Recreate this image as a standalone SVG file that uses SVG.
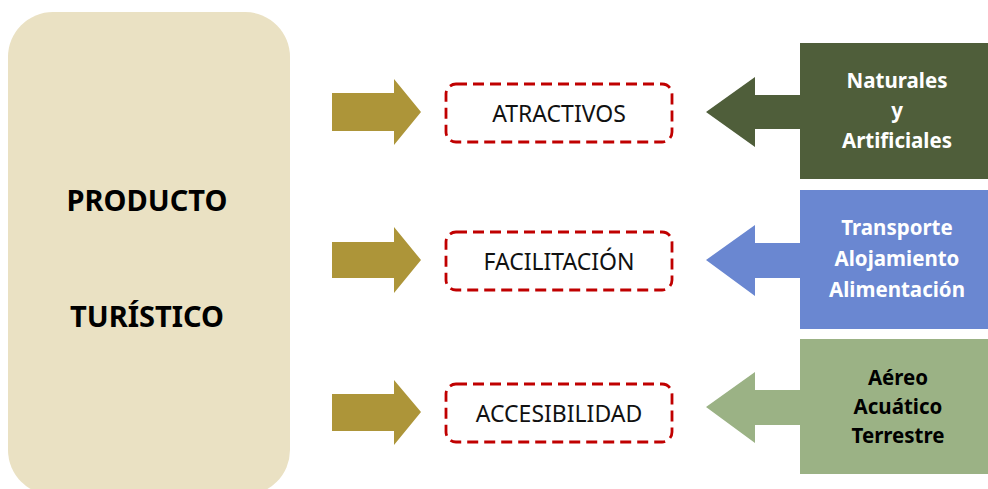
<svg xmlns="http://www.w3.org/2000/svg" width="988" height="489" viewBox="0 0 988 489">
<style>
.gold{fill:#AD9539}
.dash{fill:none;stroke:#C00000;stroke-width:2.8;stroke-dasharray:11 6}
.lbl{font-family:"Noto Sans","Open Sans",sans-serif;font-size:23px;fill:#111;text-anchor:middle}
.big{font-family:"Noto Sans","Open Sans",sans-serif;font-size:29px;font-weight:bold;fill:#000;text-anchor:middle}
.side{font-family:"Noto Sans","Open Sans",sans-serif;font-size:20.5px;font-weight:bold;text-anchor:middle}
</style>
<rect width="988" height="489" fill="#fff"/>
<g id="producto">
<rect x="8" y="12" width="282" height="483" rx="45" ry="45" fill="#EAE1C3"/>
<text class="big" x="147" y="211">PRODUCTO</text>
<text class="big" x="147" y="327">TURÍSTICO</text>
</g>
<g id="connectors">
<polygon class="gold" points="332,93 394,93 394,79 421,112 394,145 394,131 332,131"/>
<polygon class="gold" points="332,242 394,242 394,227 421,260 394,293 394,278 332,278"/>
<polygon class="gold" points="332,394 394,394 394,380 421,412 394,445 394,431 332,431"/>
<polygon fill="#4F5E3A" points="800,95 755,95 755,77 706,112 755,147 755,129 800,129"/>
<polygon fill="#6A87D1" points="800,243 755,243 755,225 706,260 755,296 755,278 800,278"/>
<polygon fill="#9BB285" points="800,390 755,390 755,372 706,407 755,443 755,425 800,425"/>
</g>
<g id="atractivos">
<rect class="dash" x="446" y="84" width="226" height="58" rx="10"/>
<text class="lbl" x="559" y="122">ATRACTIVOS</text>
</g>
<g id="facilitacion">
<rect class="dash" x="446" y="232" width="226" height="58" rx="10"/>
<text class="lbl" x="559" y="270">FACILITACIÓN</text>
</g>
<g id="accesibilidad">
<rect class="dash" x="446" y="384" width="226" height="58" rx="10"/>
<text class="lbl" x="559" y="422">ACCESIBILIDAD</text>
</g>
<g id="naturales">
<rect x="800" y="43" width="188" height="136" fill="#4F5E3A"/>
<text class="side" fill="#fff" x="897" y="88">Naturales</text>
<text class="side" fill="#fff" x="897" y="118">y</text>
<text class="side" fill="#fff" x="897" y="148">Artificiales</text>
</g>
<g id="transporte">
<rect x="800" y="190" width="188" height="139" fill="#6A87D1"/>
<text class="side" fill="#fff" x="897" y="235">Transporte</text>
<text class="side" fill="#fff" x="897" y="266">Alojamiento</text>
<text class="side" fill="#fff" x="897" y="297">Alimentación</text>
</g>
<g id="aereo">
<rect x="800" y="339" width="188" height="135" fill="#9BB285"/>
<text class="side" fill="#000" x="898" y="385">Aéreo</text>
<text class="side" fill="#000" x="898" y="414">Acuático</text>
<text class="side" fill="#000" x="898" y="443">Terrestre</text>
</g>
</svg>
